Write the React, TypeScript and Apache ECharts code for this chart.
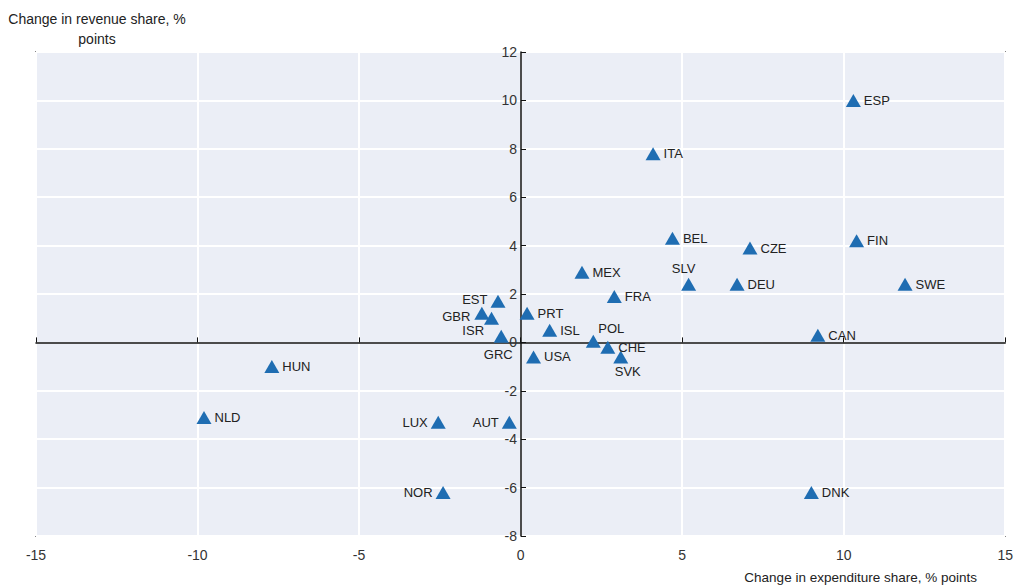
import React, { useEffect, useRef } from "react";
import * as echarts from "echarts";

const countries = ["ESP","ITA","BEL","CZE","FIN","MEX","SLV","DEU","SWE","FRA","EST","PRT","GBR","ISR","ISL","GRC","CAN","POL","CHE","SVK","USA","HUN","NLD","LUX","AUT","NOR","DNK"];
const expenditureChange = [10.3,4.1,4.7,7.1,10.4,1.9,5.2,6.7,11.9,2.9,-0.7,0.2,-1.2,-0.9,0.9,-0.6,9.2,2.25,2.7,3.1,0.4,-7.7,-9.8,-2.55,-0.35,-2.4,9.0];
const revenueChange = [10.0,7.8,4.3,3.9,4.2,2.9,2.4,2.4,2.4,1.9,1.7,1.2,1.2,1.0,0.5,0.25,0.3,0.05,-0.2,-0.6,-0.6,-1.0,-3.1,-3.3,-3.3,-6.2,-6.2];
const xTicks = { min: -15, max: 15, step: 5 };
const yTicks = { min: -8, max: 12, step: 2 };

// label placement (layout only)
const labelPlacement: Record<string, { position: string; offset?: number[] }> = {
  EST: { position: "left", offset: [0, -2] },
  GBR: { position: "left", offset: [-1, 3] },
  ISR: { position: "left", offset: [3, 12] },
  LUX: { position: "left" },
  AUT: { position: "left" },
  NOR: { position: "left" },
  GRC: { position: "bottom", offset: [-3, 2] },
  POL: { position: "top", offset: [18, 3] },
  SVK: { position: "bottom", offset: [7, -1] },
  SLV: { position: "top", offset: [-5, 0] },
};

const FONT = "'Liberation Sans Narrow', 'Liberation Sans', Arial, sans-serif";
const GRID_LEFT = 36;
const GRID_RIGHT = 10;
const WIDTH = 1016;

export default function App() {
  const ref = useRef<HTMLDivElement>(null);
  useEffect(() => {
    if (!ref.current) return;
    const chart = echarts.init(ref.current, null, { renderer: "svg" });
    const data = countries.map((c, i) => {
      const p = labelPlacement[c];
      return {
        name: c,
        value: [expenditureChange[i], revenueChange[i]],
        label: p ? { position: p.position, offset: p.offset || [0, 0] } : undefined,
      };
    });
    const plotW = WIDTH - GRID_LEFT - GRID_RIGHT;
    const zeroOffset = ((0 - xTicks.min) / (xTicks.max - xTicks.min)) * plotW;
    chart.setOption({
      animation: false,
      textStyle: { fontFamily: FONT },
      grid: {
        left: GRID_LEFT,
        right: GRID_RIGHT,
        top: 52,
        bottom: 50,
        show: true,
        borderColor: "#2a2a2a",
        borderWidth: 1.5,
        backgroundColor: "#ebeef6",
      },
      xAxis: [
        {
          type: "value",
          min: xTicks.min,
          max: xTicks.max,
          interval: xTicks.step,
          position: "bottom",
          axisLine: { show: false, onZero: false },
          axisTick: { show: false },
          axisLabel: { margin: 12, fontSize: 14, color: "#333", fontFamily: FONT },
          splitLine: { show: true, lineStyle: { color: "#ffffff", width: 2 } },
        },
        {
          type: "value",
          min: xTicks.min,
          max: xTicks.max,
          interval: xTicks.step,
          position: "top",
          axisLine: { show: true, onZero: true, lineStyle: { color: "#111", width: 1.5 } },
          axisTick: { show: true, length: 5, lineStyle: { color: "#111" } },
          axisLabel: { show: false },
          splitLine: { show: false },
        },
      ],
      yAxis: {
        type: "value",
        min: yTicks.min,
        max: yTicks.max,
        interval: yTicks.step,
        position: "left",
        offset: -zeroOffset,
        axisLine: { show: true, onZero: false, lineStyle: { color: "#111", width: 1.5 } },
        axisTick: { show: true, inside: true, length: 5, lineStyle: { color: "#111" } },
        axisLabel: { margin: 4, fontSize: 14, color: "#333", fontFamily: FONT },
        splitLine: { show: true, lineStyle: { color: "#ffffff", width: 2 } },
      },
      graphic: [
        {
          type: "text",
          x: 97,
          y: 9,
          style: {
            text: "Change in revenue share, %\npoints",
            align: "center",
            verticalAlign: "top",
            fontSize: 14,
            lineHeight: 20,
            fill: "#222",
            fontFamily: FONT,
          },
        },
        {
          type: "text",
          x: 977,
          y: 570,
          style: {
            text: "Change in expenditure share, % points",
            align: "right",
            verticalAlign: "top",
            fontSize: 13.5,
            fill: "#222",
            fontFamily: FONT,
          },
        },
      ],
      series: [
        {
          type: "scatter",
          xAxisIndex: 0,
          symbol: "triangle",
          symbolSize: [15, 13],
          itemStyle: { color: "#1f6db2", opacity: 1 },
          label: {
            show: true,
            position: "right",
            distance: 3,
            formatter: "{b}",
            fontSize: 13,
            color: "#222",
            fontFamily: FONT,
          },
          data,
        },
      ],
    });
    return () => chart.dispose();
  }, []);
  return (
    <div
      ref={ref}
      style={{ position: "fixed", left: 0, top: 0, width: 1016, height: 586, background: "#fff" }}
    />
  );
}
